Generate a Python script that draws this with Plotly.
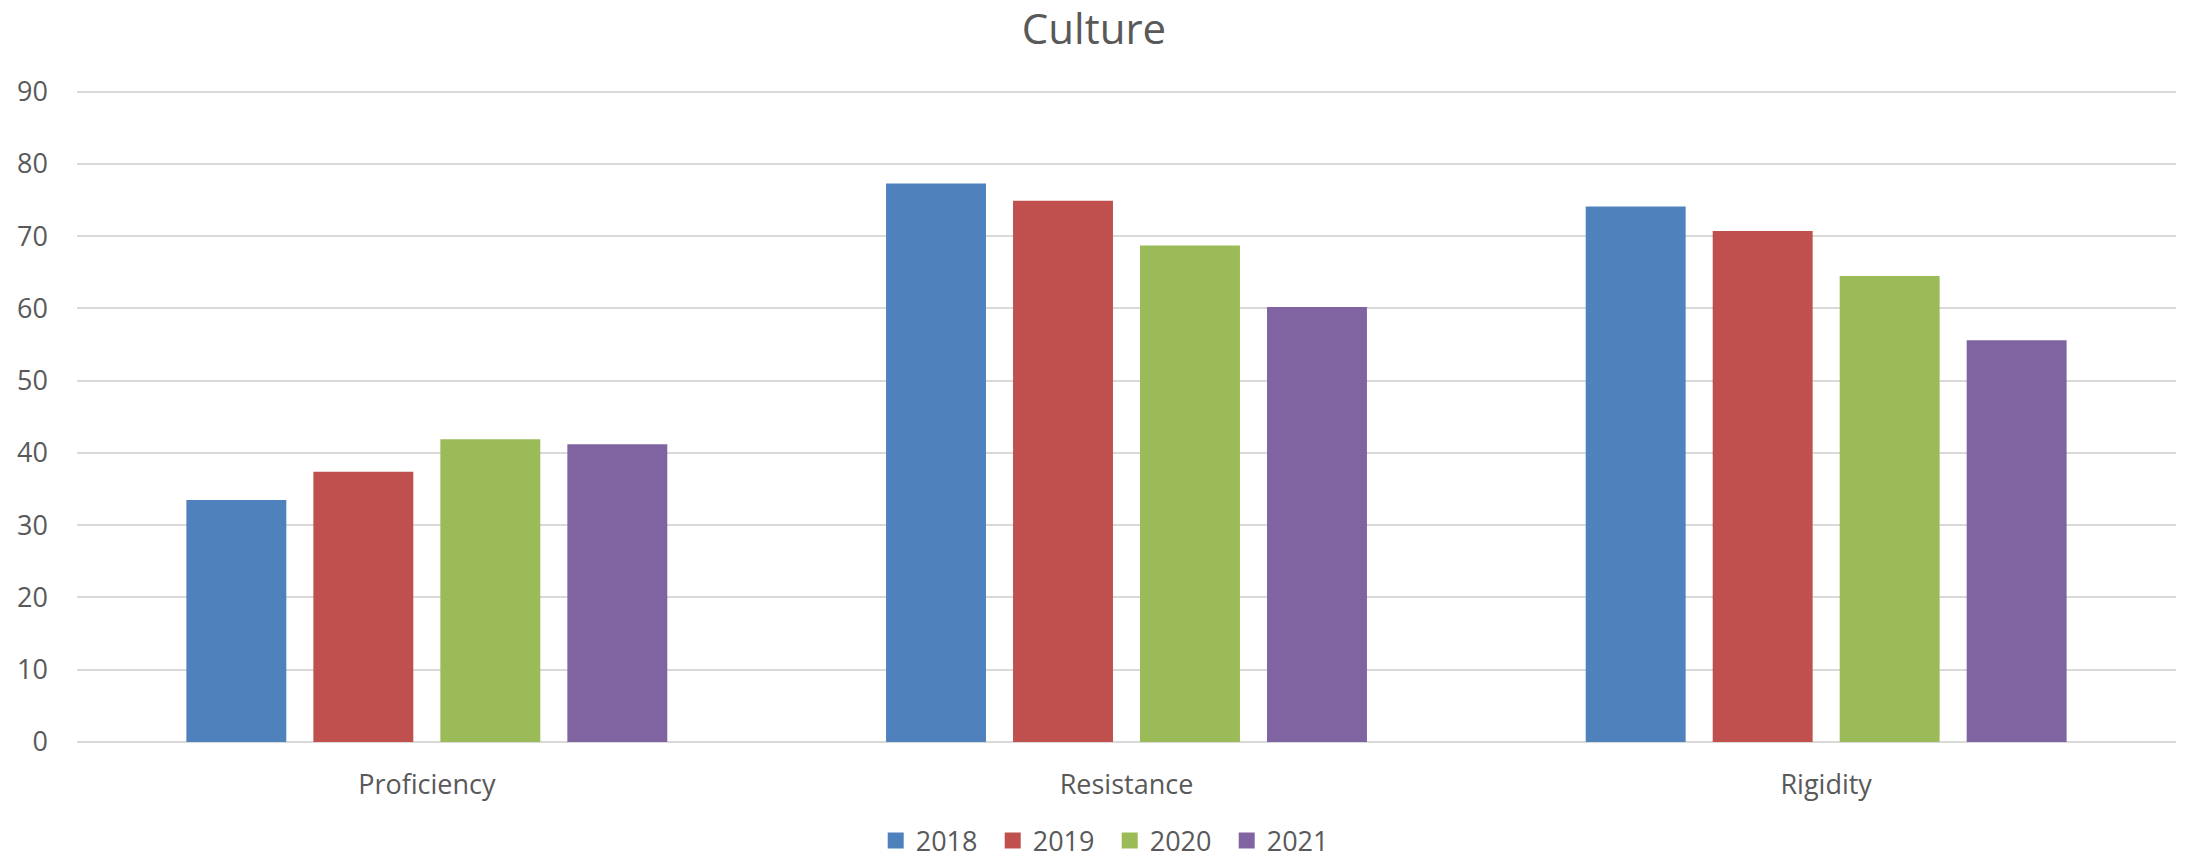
import plotly.graph_objects as go

categories = ["Proficiency", "Resistance", "Rigidity"]
years = ["2018", "2019", "2020", "2021"]
values_2018 = [33.5, 77.3, 74.1]
values_2019 = [37.4, 74.9, 70.7]
values_2020 = [41.9, 68.7, 64.5]
values_2021 = [41.2, 60.2, 55.6]
series = [values_2018, values_2019, values_2020, values_2021]
colors = ["#4F81BD", "#C0504D", "#9BBB59", "#8064A2"]
y_ticks = [0, 10, 20, 30, 40, 50, 60, 70, 80, 90]

FONT = "Open Sans"
TXT = "#595959"

fig = go.Figure()
for name, vals, col in zip(years, series, colors):
    fig.add_trace(go.Bar(x=categories, y=vals, name=name, marker_color=col,
                         marker_line_width=0, showlegend=False))
# legend entries with larger square swatches
for name, col in zip(years, colors):
    fig.add_trace(go.Scatter(x=[None], y=[None], mode="markers", name=name,
                             marker=dict(symbol="square", size=18, color=col)))

T, B = 88, 117
PLOT_H = 859 - T - B
fig.update_layout(
    width=2188, height=859,
    margin=dict(l=77, r=12, t=T, b=B, autoexpand=False),
    paper_bgcolor="white", plot_bgcolor="white",
    barmode="group", bargap=0.274, bargroupgap=0.213,
    font=dict(family=FONT, color=TXT, size=27),
    title=dict(text="Culture", x=0.5, xanchor="center", yref="container",
               y=1 - 29 / 859, yanchor="middle",
               font=dict(family=FONT, size=42, color=TXT)),
    legend=dict(orientation="h", x=0.492, xanchor="center",
                y=-(841 - (859 - B)) / PLOT_H, yanchor="middle",
                font=dict(family=FONT, size=27, color=TXT),
                entrywidth=72, entrywidthmode="pixels"),
    xaxis=dict(showgrid=False, showline=False, ticks="", ticklabelstandoff=24,
               tickfont=dict(family=FONT, size=27, color=TXT)),
    yaxis=dict(range=[0, 90.5], tickvals=y_ticks, showgrid=True, gridcolor="#D9D9D9",
               gridwidth=2, zeroline=True, zerolinecolor="#D9D9D9", zerolinewidth=2,
               showline=False, ticks="", ticklabelstandoff=28,
               tickfont=dict(family=FONT, size=27, color=TXT)),
)

fig.write_html("out.html")
